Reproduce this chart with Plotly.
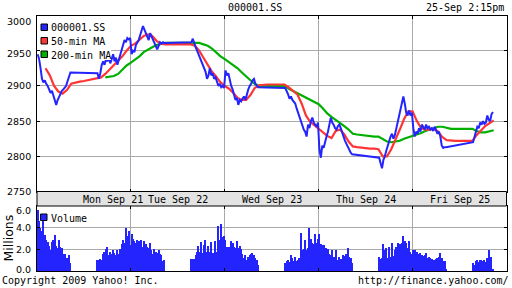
import plotly.graph_objects as go

# ---------------- data ----------------
days = ["Mon Sep 21", "Tue Sep 22", "Wed Sep 23", "Thu Sep 24", "Fri Sep 25"]
DAY_LEN = 330     # 9:30-15:00 in minutes
PM_START = 210    # 13:00
STEP = 5          # 5-minute bars

price_am = [
    [2945, 2938, 2925, 2910, 2905, 2908, 2903, 2900, 2895, 2890, 2893, 2885, 2878, 2873, 2880, 2885, 2890, 2893, 2895, 2898, 2900, 2907, 2915, 2919],
    [2945, 2950, 2948, 2958, 2962, 2965, 2972, 2978, 2985, 2980, 2975, 2970, 2965, 2975, 2970, 2965, 2960, 2955, 2952, 2957, 2962, 2960, 2962, 2961],
    [2922, 2915, 2918, 2908, 2900, 2895, 2888, 2880, 2883, 2873, 2880, 2878, 2882, 2885, 2880, 2890, 2895, 2900, 2903, 2908, 2910, 2903, 2900, 2898],
    [2810, 2798, 2815, 2812, 2822, 2828, 2835, 2845, 2855, 2848, 2845, 2840, 2838, 2843, 2845, 2840, 2835, 2828, 2822, 2818, 2812, 2808, 2805, 2803],
    [2840, 2828, 2835, 2832, 2840, 2835, 2845, 2842, 2838, 2845, 2840, 2842, 2838, 2840, 2836, 2842, 2838, 2832, 2835, 2828, 2815, 2812, 2813, 2813],
]
price_pm = [
    [2918, 2910, 2918, 2930, 2935, 2930, 2938, 2935, 2940, 2932, 2938, 2945, 2935, 2940, 2930, 2938, 2945, 2952, 2958, 2965, 2962, 2968, 2966, 2968],
    [2962, 2967, 2960, 2955, 2950, 2945, 2938, 2935, 2930, 2925, 2920, 2910, 2915, 2925, 2915, 2918, 2910, 2912, 2905, 2900, 2903, 2898, 2900, 2897],
    [2897, 2893, 2888, 2882, 2885, 2880, 2878, 2875, 2868, 2862, 2855, 2848, 2842, 2838, 2835, 2828, 2845, 2840, 2850, 2855, 2848, 2845, 2842, 2848],
    [2798, 2790, 2783, 2795, 2800, 2808, 2815, 2820, 2828, 2832, 2825, 2830, 2840, 2845, 2855, 2868, 2878, 2885, 2875, 2862, 2858, 2865, 2858, 2862],
    [2820, 2830, 2835, 2842, 2840, 2848, 2845, 2850, 2846, 2848, 2858, 2852, 2850, 2860, 2863],
]
vol_am = [
    [5.6, 4.6, 4.0, 3.7, 5.0, 3.3, 2.9, 2.7, 2.3, 1.9, 2.7, 2.9, 3.3, 2.3, 2.1, 2.9, 2.2, 2.1, 1.6, 1.6, 1.2, 1.2, 1.5, 0.7],
    [3.4, 3.0, 2.8, 2.6, 2.9, 2.8, 2.8, 2.9, 2.2, 2.8, 2.5, 2.2, 2.1, 2.6, 1.9, 1.6, 2.0, 1.8, 1.7, 1.9, 1.6, 1.5, 0.9, 1.0],
    [2.9, 2.2, 2.2, 2.2, 2.8, 2.6, 2.2, 2.1, 2.8, 2.1, 2.3, 2.0, 1.6, 1.2, 1.5, 1.0, 1.3, 1.5, 1.6, 1.7, 1.5, 1.2, 1.0, 0.6],
    [3.4, 2.5, 2.4, 2.4, 1.9, 2.1, 2.0, 1.6, 1.5, 1.9, 1.3, 1.2, 1.9, 1.0, 1.3, 1.1, 1.0, 1.5, 1.4, 1.6, 2.1, 1.3, 1.2, 0.7],
    [1.9, 1.9, 1.8, 1.8, 1.6, 1.7, 1.5, 1.4, 1.5, 1.7, 1.2, 1.3, 1.2, 1.1, 1.0, 1.0, 1.1, 1.2, 1.3, 1.7, 1.2, 0.9, 0.9, 0.1],
]
vol_pm = [
    [1.0, 1.0, 1.1, 1.0, 1.6, 1.8, 2.0, 2.2, 1.5, 1.8, 1.6, 1.9, 1.7, 1.5, 1.9, 1.6, 2.0, 2.5, 2.9, 2.6, 4.0, 3.2, 3.7, 2.4],
    [1.1, 1.1, 1.1, 1.5, 1.8, 2.3, 1.8, 2.7, 1.7, 2.4, 2.9, 1.8, 2.3, 1.8, 2.7, 1.7, 1.7, 2.8, 1.8, 4.2, 2.9, 4.3, 3.1, 3.2],
    [0.7, 0.9, 1.0, 0.8, 1.5, 1.2, 0.9, 1.3, 0.9, 1.0, 1.2, 3.5, 1.9, 2.0, 2.9, 1.9, 2.1, 4.0, 3.0, 2.6, 2.5, 3.4, 2.6, 3.0],
    [1.3, 1.1, 1.2, 2.5, 1.9, 2.1, 1.2, 2.2, 1.3, 2.6, 1.4, 1.9, 2.2, 2.6, 1.8, 2.5, 2.6, 3.2, 2.8, 2.6, 2.1, 2.8, 1.8, 1.6],
    [0.7, 0.6, 0.9, 1.0, 0.8, 1.0, 1.0, 0.9, 1.0, 0.8, 1.2, 1.9, 1.0, 1.3, 0.1],
]

# moving averages sampled every 15 chart-minutes
MA_STEP = 15
ma50_start = 2
ma50 = [2925, 2915, 2900, 2892, 2889, 2894, 2903, 2905, 2906, 2907, 2908, 2909, 2910,
        2912, 2917, 2923, 2930, 2936, 2942, 2950, 2957, 2960, 2965, 2971, 2973, 2971, 2964, 2960,
        2959, 2959, 2959, 2959, 2959, 2959, 2959, 2957, 2950, 2940, 2930, 2920, 2913, 2905, 2900,
        2896, 2890, 2883, 2880, 2880, 2887, 2897, 2901, 2902, 2902, 2902, 2902, 2902, 2902,
        2898, 2893, 2888, 2875, 2858, 2849, 2844, 2840, 2835, 2829, 2826, 2836, 2838, 2831, 2821,
        2814, 2813, 2812, 2812, 2811, 2811, 2810, 2800, 2800, 2810, 2823, 2838, 2853, 2864, 2864,
        2850, 2840, 2838, 2838, 2839, 2835, 2827, 2823, 2822, 2822, 2822, 2822, 2822, 2822, 2830, 2837, 2843, 2847, 2851]
ma200_start = 16
ma200 = [2912, 2913, 2914, 2917, 2923, 2929, 2933, 2937, 2942, 2948, 2952, 2955, 2958, 2960, 2961, 2961, 2961, 2961, 2961, 2961,
         2961, 2962, 2961, 2959, 2957, 2953, 2947, 2942, 2938, 2934, 2930, 2925, 2919, 2913, 2908, 2903, 2900,
         2900, 2900, 2900, 2900, 2900, 2900, 2896, 2893, 2890, 2887, 2884, 2880, 2877, 2874,
         2868, 2861, 2856, 2852, 2848, 2843, 2838, 2832, 2831, 2830, 2829, 2829, 2828, 2828,
         2825, 2821, 2820, 2821, 2822, 2825, 2827, 2829, 2830, 2833, 2836, 2838, 2840, 2842, 2842, 2840,
         2839, 2839, 2839, 2839, 2839, 2839, 2836, 2834, 2834, 2835, 2837]

price_ticks = [2750, 2800, 2850, 2900, 2950, 3000]
vol_ticks = [0, 2, 4, 6]

# ---------------- build series ----------------
px_, py_, vx_, vy_ = [], [], [], []
for d in range(len(days)):
    for off, pv, vv in ((0, price_am[d], vol_am[d]), (PM_START, price_pm[d], vol_pm[d])):
        for i, (p, v) in enumerate(zip(pv, vv)):
            t = d * DAY_LEN + off + STEP * i + STEP / 2
            px_.append(t); py_.append(p)
            vx_.append(t); vy_.append(v)

ma50_x = [(ma50_start + k) * MA_STEP for k in range(len(ma50))]
ma200_x = [(ma200_start + k) * MA_STEP for k in range(len(ma200))]

BLUE = "#2424ff"
RED = "#ff3535"
GREEN = "#00b000"
GRID = "#a9a9a9"
MONO = "DejaVu Sans Mono"
SANS = "DejaVu Sans"

W, H = 512, 288
X0, X1 = 37, 506.5
P_TOP, P_BOT = 15.5, 191.5
V_TOP, V_BOT = 206, 271


def fx(px):
    return px / W


def fy(py):
    return 1 - py / H


fig = go.Figure()
fig.add_trace(go.Scatter(x=ma200_x, y=ma200, mode="lines", line=dict(color=GREEN, width=2.2),
                         xaxis="x", yaxis="y", showlegend=False))
fig.add_trace(go.Scatter(x=ma50_x, y=ma50, mode="lines", line=dict(color=RED, width=2.2),
                         xaxis="x", yaxis="y", showlegend=False))
fig.add_trace(go.Scatter(x=px_, y=py_, mode="lines", line=dict(color=BLUE, width=2),
                         xaxis="x", yaxis="y", showlegend=False))
fig.add_trace(go.Bar(x=vx_, y=vy_, width=4.3, marker=dict(color=BLUE, line=dict(width=0)),
                     xaxis="x2", yaxis="y2", showlegend=False))

day_bounds = [DAY_LEN * (i + 1) for i in range(len(days) - 1)]
xcommon = dict(range=[0, DAY_LEN * len(days)], tickvals=day_bounds, showticklabels=False,
               ticks="inside", ticklen=3, tickcolor="black", showgrid=True, gridcolor=GRID,
               gridwidth=1, showline=True, linecolor="black", linewidth=1, mirror="ticks",
               zeroline=False, fixedrange=True, domain=[fx(X0), fx(X1)])
ycommon = dict(ticks="inside", ticklen=3, tickcolor="black", showgrid=True, gridcolor=GRID,
               showline=True, linecolor="black", linewidth=1, mirror="ticks", zeroline=False,
               showticklabels=False)

fig.update_layout(
    width=W, height=H, margin=dict(l=0, r=0, t=0, b=0), autosize=False,
    paper_bgcolor="white", plot_bgcolor="white", bargap=0,
    xaxis=dict(**xcommon, anchor="y"),
    xaxis2=dict(**xcommon, anchor="y2"),
    yaxis=dict(range=[2750, 3000], domain=[fy(P_BOT), fy(P_TOP)], tickvals=price_ticks,
               anchor="x", **ycommon),
    yaxis2=dict(range=[0, 6], domain=[fy(V_BOT), fy(V_TOP)], tickvals=vol_ticks,
                anchor="x2", **ycommon),
)

shapes = []
ann = []
tick_font = dict(family=SANS, size=9.5, color="black")
# y tick labels (kept inside the frame height like the original)
price_shift = {3000: -6.5, 2950: -3}
for v in price_ticks:
    ann.append(dict(x=fx(32.5), xref="paper", y=v, yref="y", text=str(v), showarrow=False,
                    xanchor="right", yanchor="middle", yshift=price_shift.get(v, 0), font=tick_font))
vol_shift = {6: -4, 0: 2}
for v in vol_ticks:
    ann.append(dict(x=fx(32.5), xref="paper", y=v, yref="y2", text="%.1f" % v, showarrow=False,
                    xanchor="right", yanchor="middle", yshift=vol_shift.get(v, 0), font=tick_font))

# date strip
shapes.append(dict(type="rect", xref="paper", yref="paper", x0=fx(X0), x1=fx(X1),
                   y0=fy(V_TOP), y1=fy(P_BOT), fillcolor="#e3e3e3", line=dict(color="black", width=1),
                   layer="above"))
label_x = [267, 495, 825, 1155, 1485]
for lx, name in zip(label_x, days):
    ann.append(dict(x=lx, xref="x", y=fy(199), yref="paper", text=name, showarrow=False,
                    font=dict(family=MONO, size=10, color="black"), xanchor="center", yanchor="middle"))

# legend (price)
shapes.append(dict(type="rect", xref="paper", yref="paper", x0=fx(40), x1=fx(111), y0=fy(60), y1=fy(16.5),
                   fillcolor="white", line=dict(width=0), layer="above"))
leg = [("000001.SS", BLUE), ("50-min MA", RED), ("200-min MA", GREEN)]
for i, (txt, col) in enumerate(leg):
    cy = 27 + 13.5 * i
    shapes.append(dict(type="rect", xref="paper", yref="paper", x0=fx(41), x1=fx(47.5),
                       y0=fy(cy + 3.5), y1=fy(cy - 3), fillcolor=col, line=dict(color="black", width=1),
                       layer="above"))
    ann.append(dict(x=fx(49), y=fy(cy + 1), xref="paper", yref="paper", text=txt, showarrow=False,
                    xanchor="left", yanchor="middle", font=dict(family=MONO, size=10, color="black")))
# legend (volume)
shapes.append(dict(type="rect", xref="paper", yref="paper", x0=fx(40.5), x1=fx(47), y0=fy(220.5), y1=fy(214),
                   fillcolor=BLUE, line=dict(color="black", width=1), layer="above"))
ann.append(dict(x=fx(49), y=fy(218.5), xref="paper", yref="paper", text="Volume", showarrow=False,
                xanchor="left", yanchor="middle", font=dict(family=MONO, size=10, color="black")))

# header / footer
ann.append(dict(x=fx(255), y=fy(7.5), xref="paper", yref="paper", text="000001.SS", showarrow=False,
                xanchor="center", yanchor="middle", font=dict(family=MONO, size=10, color="black")))
ann.append(dict(x=fx(506), y=fy(7.5), xref="paper", yref="paper", text="25-Sep 2:15pm", showarrow=False,
                xanchor="right", yanchor="middle", font=dict(family=MONO, size=10, color="black")))
ann.append(dict(x=0, y=fy(280.5), xref="paper", yref="paper", text="Copyright 2009 Yahoo! Inc.", showarrow=False,
                xanchor="left", yanchor="middle", font=dict(family=MONO, size=10, color="black")))
ann.append(dict(x=fx(511), y=fy(280.5), xref="paper", yref="paper", text="http://finance.yahoo.com/",
                showarrow=False, xanchor="right", yanchor="middle",
                font=dict(family=MONO, size=10, color="black")))
ann.append(dict(x=fx(7.5), y=fy(238), xref="paper", yref="paper", text="Millions", showarrow=False,
                textangle=-90, xanchor="center", yanchor="middle",
                font=dict(family=SANS, size=12.5, color="black")))

fig.update_layout(shapes=shapes, annotations=ann)
fig.write_html("out.html")
